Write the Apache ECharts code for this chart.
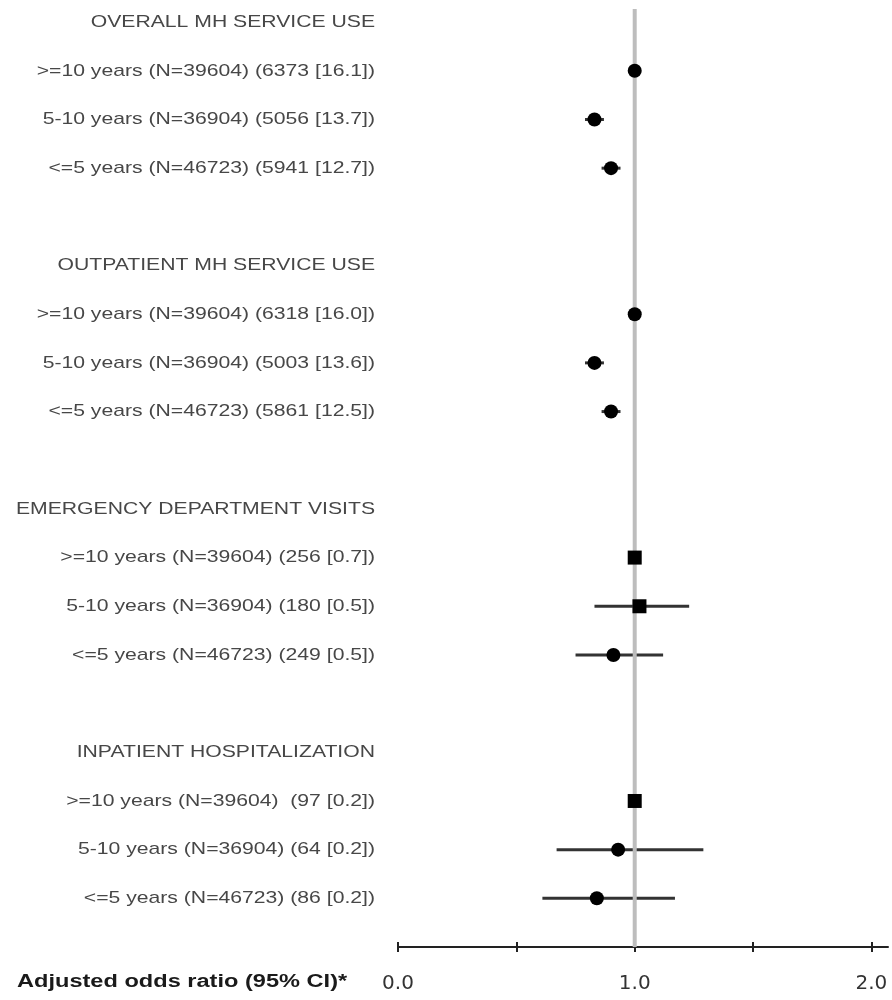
<!DOCTYPE html>
<html>
<head>
<meta charset="utf-8">
<script src="https://cdn.jsdelivr.net/npm/echarts@6/dist/echarts.min.js"></script>
<style>
html,body{margin:0;padding:0;background:#fff;}
#chart{width:892px;height:1000px;}
</style>
</head>
<body>
<div id="chart"></div>
<script>
// ---- data ----
const groups = ['OVERALL MH SERVICE USE', 'OUTPATIENT MH SERVICE USE', 'EMERGENCY DEPARTMENT VISITS', 'INPATIENT HOSPITALIZATION'];
const rowLabels = [
  ['>=10 years (N=39604) (6373 [16.1])', '5-10 years (N=36904) (5056 [13.7])', '<=5 years (N=46723) (5941 [12.7])'],
  ['>=10 years (N=39604) (6318 [16.0])', '5-10 years (N=36904) (5003 [13.6])', '<=5 years (N=46723) (5861 [12.5])'],
  ['>=10 years (N=39604) (256 [0.7])', '5-10 years (N=36904) (180 [0.5])', '<=5 years (N=46723) (249 [0.5])'],
  ['>=10 years (N=39604)  (97 [0.2])', '5-10 years (N=36904) (64 [0.2])', '<=5 years (N=46723) (86 [0.2])']
];
const oddsRatio = [
  [1.0, 0.83, 0.90],
  [1.0, 0.83, 0.90],
  [1.0, 1.02, 0.91],
  [1.0, 0.93, 0.84]
];
const ciLow = [
  [null, 0.79, 0.86],
  [null, 0.79, 0.86],
  [null, 0.83, 0.75],
  [null, 0.67, 0.61]
];
const ciHigh = [
  [null, 0.87, 0.94],
  [null, 0.87, 0.94],
  [null, 1.23, 1.12],
  [null, 1.29, 1.17]
];
const markerShape = [
  ['circle', 'circle', 'circle'],
  ['circle', 'circle', 'circle'],
  ['rect', 'rect', 'circle'],
  ['rect', 'circle', 'circle']
];
const tickValues = [0, 0.5, 1, 1.5, 2];
const tickLabelValues = [0, 1, 2];
const tickLabels = ['0.0', '1.0', '2.0'];
const refOR = 1;
const axisTitle = 'Adjusted odds ratio (95% CI)*';

// ---- layout helpers ----
const Y_MIN = -0.27, Y_MAX = 19, X_MAX = 2.07;
const labelItems = [];
const ciData = [];
const pointData = [];
groups.forEach((g, gi) => {
  const base = gi * 5;
  labelItems.push({ slot: base, text: g });
  rowLabels[gi].forEach((t, ri) => {
    const slot = base + 1 + ri;
    labelItems.push({ slot: slot, text: t });
    if (ciLow[gi][ri] != null) ciData.push([ciLow[gi][ri], ciHigh[gi][ri], slot]);
    pointData.push({ value: [oddsRatio[gi][ri], slot], symbol: markerShape[gi][ri] });
  });
});

const chart = echarts.init(document.getElementById('chart'));
const option = {
  animation: false,
  backgroundColor: '#fff',
  grid: { left: 398, right: 4, top: 9, bottom: 53, containLabel: false },
  xAxis: [
    {
      type: 'value', min: 0, max: X_MAX, position: 'bottom',
      axisLine: { show: true, onZero: false, lineStyle: { color: '#222', width: 2 } },
      axisTick: { show: true, length: 5, customValues: tickValues, lineStyle: { color: '#222', width: 2 } },
      axisLabel: {
        show: true, customValues: tickLabelValues, margin: 27,
        formatter: v => tickLabels[tickLabelValues.indexOf(v)] ?? '',
        fontFamily: 'DejaVu Sans', fontSize: 20, color: '#333'
      },
      splitLine: { show: false }
    },
    {
      type: 'value', min: 0, max: X_MAX, position: 'bottom',
      axisLine: { show: false, onZero: false },
      axisTick: { show: true, inside: true, length: 5, customValues: tickValues, lineStyle: { color: '#222', width: 2 } },
      axisLabel: { show: false },
      splitLine: { show: false }
    }
  ],
  yAxis: {
    type: 'value', inverse: true, min: Y_MIN, max: Y_MAX, show: false, splitLine: { show: false }
  },
  graphic: [{
    type: 'text', x: 17, y: 982, scaleX: 1.31,
    style: { text: axisTitle, font: 'bold 18px "Liberation Sans", Arial, sans-serif', fill: '#1a1a1a', align: 'left', verticalAlign: 'middle' }
  }],
  series: [
    {
      type: 'custom', name: 'labels', coordinateSystem: 'cartesian2d', clip: false, silent: true, z: 1,
      data: labelItems.map((d, i) => [0, d.slot, i]),
      encode: { x: 0, y: 1 },
      renderItem: function (params, api) {
        const item = labelItems[params.dataIndex];
        const p = api.coord([0, item.slot]);
        return {
          type: 'text', x: 375, y: p[1], scaleX: 1.245,
          style: { text: item.text, font: '17px "Liberation Sans", Arial, sans-serif', fill: '#474747', align: 'right', verticalAlign: 'middle' }
        };
      }
    },
    {
      type: 'custom', name: 'CI', coordinateSystem: 'cartesian2d', clip: false, silent: true, z: 2,
      data: ciData,
      encode: { x: [0, 1], y: 2 },
      renderItem: function (params, api) {
        const a = api.coord([api.value(0), api.value(2)]);
        const b = api.coord([api.value(1), api.value(2)]);
        return { type: 'line', shape: { x1: a[0], y1: a[1], x2: b[0], y2: b[1] }, style: { stroke: '#333', lineWidth: 3 } };
      }
    },
    {
      type: 'line', name: 'reference', silent: true, z: 3, showSymbol: false, symbol: 'none',
      data: [[refOR, Y_MIN], [refOR, Y_MAX]],
      lineStyle: { color: '#bdbdbd', width: 4 }
    },
    {
      type: 'scatter', name: 'OR', z: 4, symbolSize: 14,
      itemStyle: { color: '#000', opacity: 1 },
      data: pointData
    }
  ]
};
chart.setOption(option);
</script>
</body>
</html>
